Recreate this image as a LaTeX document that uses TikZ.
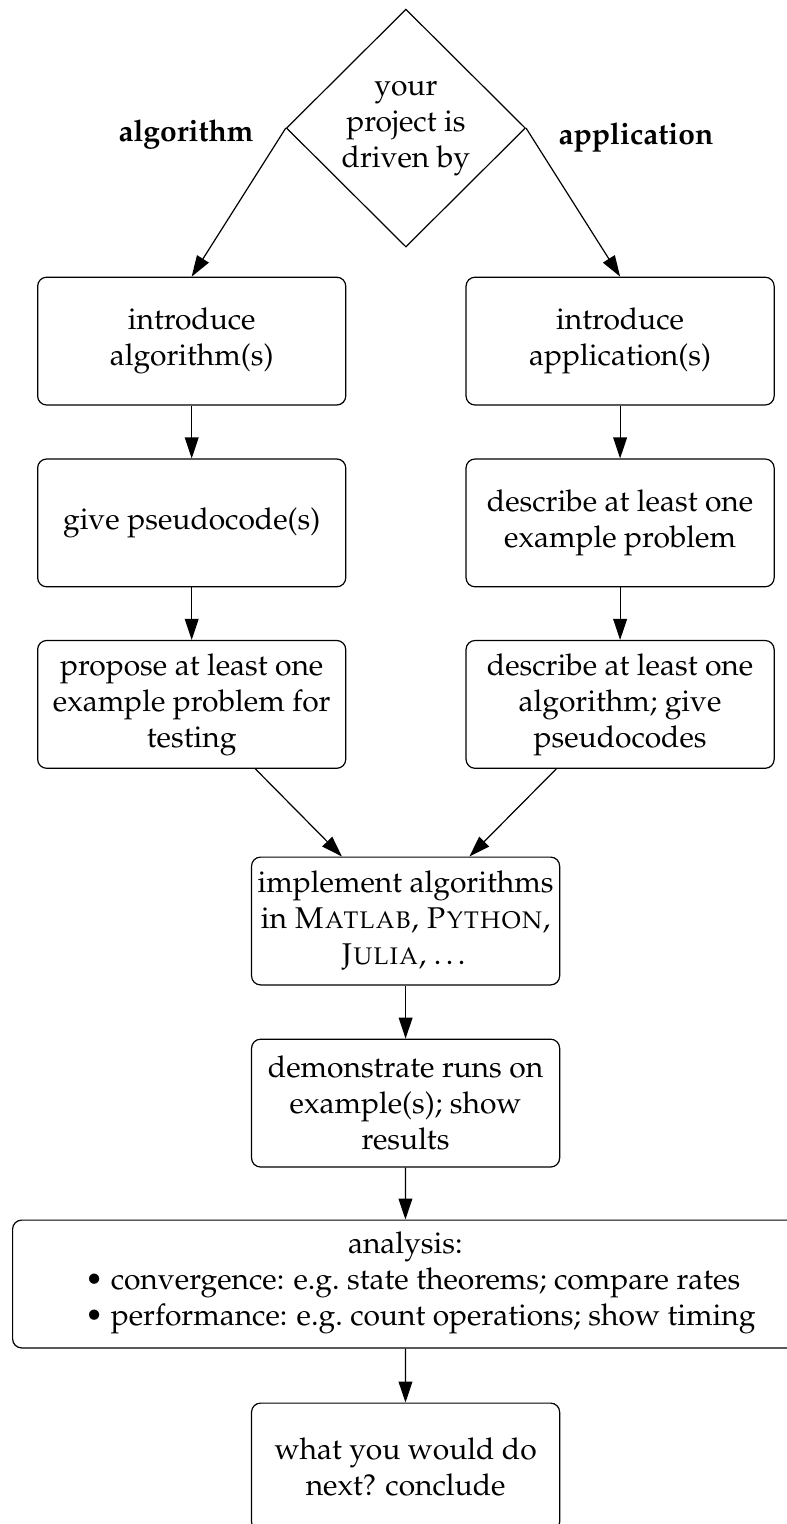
\documentclass[tikz,border=0pt]{standalone}
\usepackage[T1]{fontenc}
\usepackage{mathpazo}
\usetikzlibrary{shapes.geometric,arrows.meta}
\tikzset{
  flow/.style={draw, line width=0.4pt, rounded corners=3pt, align=center,
    minimum width=102.7pt, minimum height=42.6pt, inner sep=2pt},
  decide/.style={draw, line width=0.4pt, diamond, aspect=1, align=center,
    minimum width=79.7pt, minimum height=79.3pt, inner sep=0pt},
  conn/.style={line width=0.4pt, -{Triangle[length=7pt,width=4.6pt]}},
  branch/.style={font=\bfseries}
}
\begin{document}
\begin{tikzpicture}[x=1pt,y=1pt]
\useasboundingbox (0,0) rectangle (262.33,-508);
\node[decide] (d) at (135.3,-42.7) {your\\project is\\driven by};
\node[branch] (la) at (62,-45) {algorithm};
\node[branch] (ra) at (212,-46) {application};
\node[flow] (l1) at (63.9,-113.7) {introduce\\algorithm(s)};
\node[flow] (l2) at (63.9,-174.3) {give pseudocode(s)};
\node[flow] (l3) at (63.9,-234.8) {propose at least one\\example problem for\\testing};
\node[flow] (r1) at (206.7,-113.7) {introduce\\application(s)};
\node[flow] (r2) at (206.7,-174.3) {describe at least one\\example problem};
\node[flow] (r3) at (206.7,-234.8) {describe at least one\\algorithm; give\\pseudocodes};
\node[flow] (c1) at (135.2,-307) {implement algorithms\\in \textsc{Matlab}, \textsc{Python},\\\textsc{Julia}, \dots};
\node[flow] (c2) at (135.2,-367.7) {demonstrate runs on\\example(s); show\\results};
\node[flow, minimum width=261.8pt] (an) at (135.1,-428) {analysis:\\\hspace*{10pt}\begin{tabular}{@{}l@{}}\textbullet\ convergence: e.g.\ state theorems; compare rates\\\textbullet\ performance: e.g.\ count operations; show timing\end{tabular}};
\node[flow] (c3) at (135.2,-489) {what you would do\\next? conclude};
\draw[conn] (d.west) -- (l1.north);
\draw[conn] (d.east) -- (r1.north);
\draw[conn] (l1) -- (l2);
\draw[conn] (l2) -- (l3);
\draw[conn] (r1) -- (r2);
\draw[conn] (r2) -- (r3);
\draw[conn] (l3) -- (c1);
\draw[conn] (r3) -- (c1);
\draw[conn] (c1) -- (c2);
\draw[conn] (c2) -- (an);
\draw[conn] (an) -- (c3);
\end{tikzpicture}
\end{document}
